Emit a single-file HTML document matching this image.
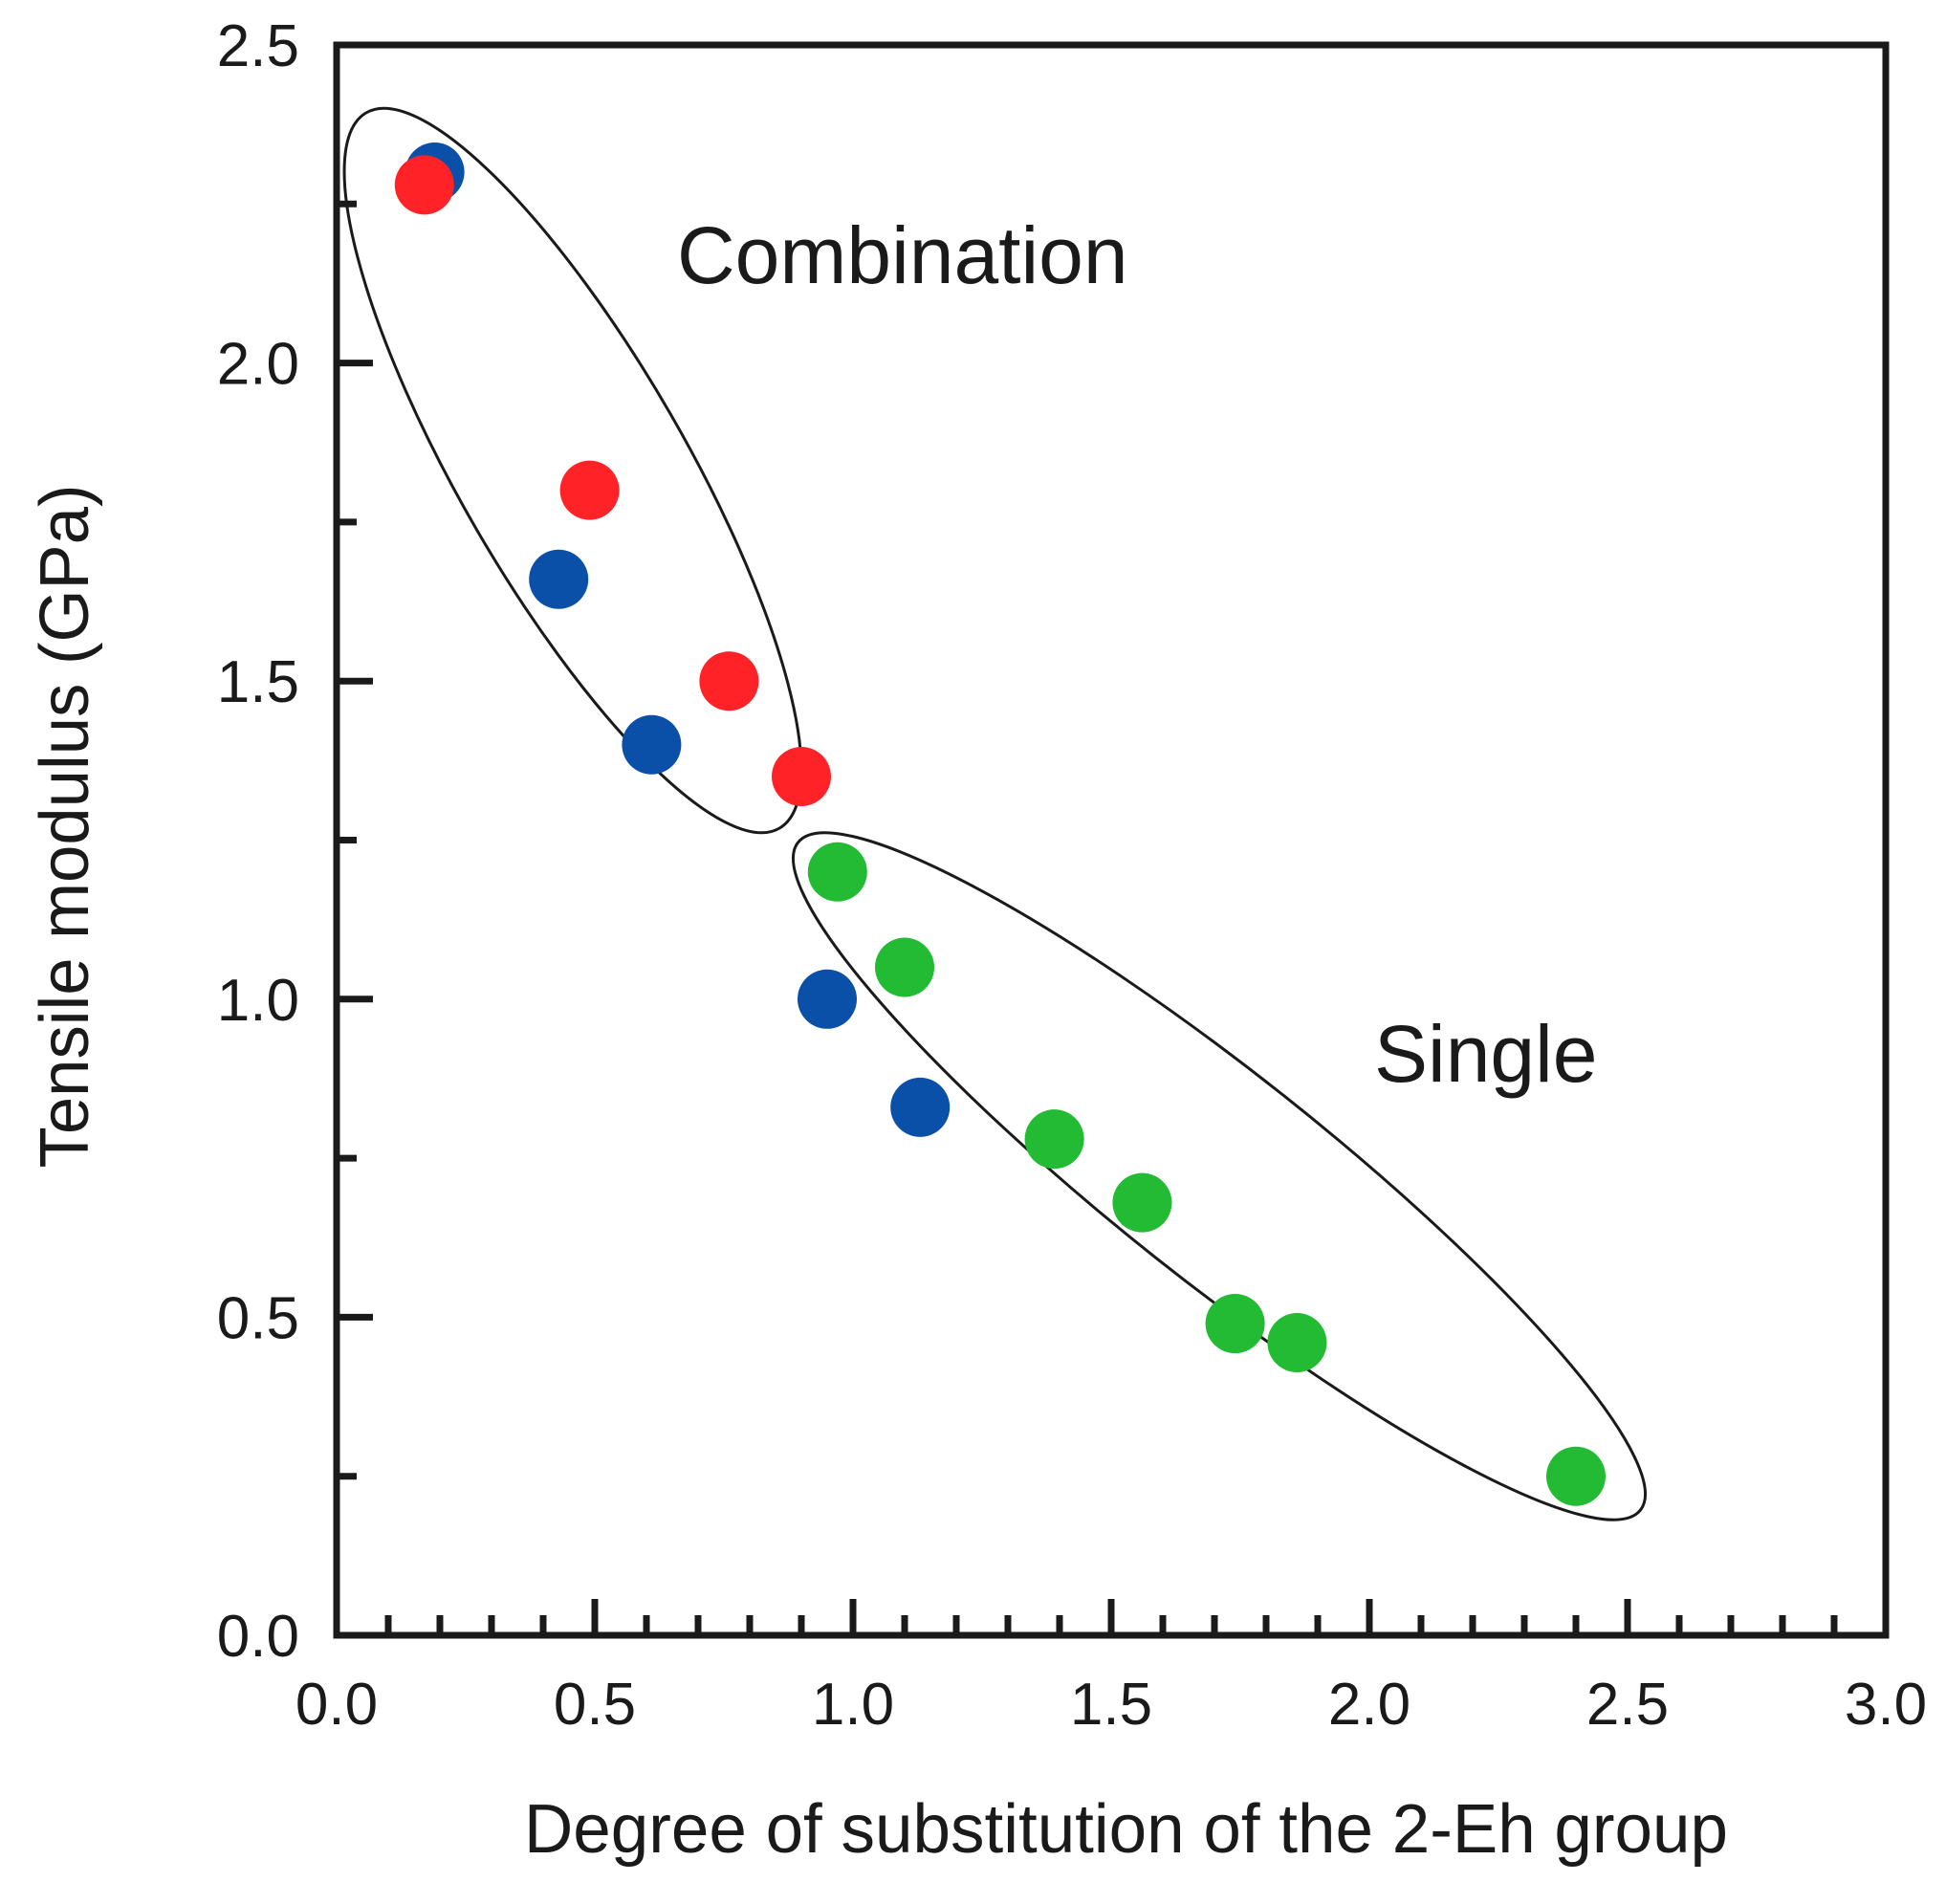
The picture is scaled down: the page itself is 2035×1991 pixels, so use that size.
<!DOCTYPE html>
<html><head><meta charset="utf-8"><style>
html,body{margin:0;padding:0;background:#fff}
svg text{font-family:"Liberation Sans",sans-serif;fill:#1a1a1a}
</style></head><body>
<svg width="2035" height="1986" viewBox="0 0 2035 1986" id="chart"></svg>
<script>
const blueX=[0.19,0.43,0.61,0.95,1.13];
const blueY=[2.30,1.66,1.40,1.00,0.83];
const redX=[0.17,0.49,0.76,0.90];
const redY=[2.28,1.80,1.50,1.35];
const greenX=[0.97,1.10,1.39,1.56,1.74,1.86,2.40];
const greenY=[1.20,1.05,0.78,0.68,0.49,0.46,0.25];
const xTicks=["0.0","0.5","1.0","1.5","2.0","2.5","3.0"];
const yTicks=["0.0","0.5","1.0","1.5","2.0","2.5"];
const X0=352,X1=1972,Y0=1710,Y1=47;
function sx(v){return X0+(X1-X0)*v/3;}
function sy(v){return Y0-(Y0-Y1)*v/2.5;}
const svg=document.getElementById('chart');
const NS='http://www.w3.org/2000/svg';
function mk(t,a,p){const e=document.createElementNS(NS,t);for(const k in a)e.setAttribute(k,a[k]);(p||svg).appendChild(e);return e;}
for(let i=1;i<30;i++){const major=i%5===0;const x=sx(i/10);
const t=mk('line',{x1:x,x2:x,y1:Y0,y2:Y0-(major?38:21),stroke:'#1a1a1a','stroke-width':7});

}
for(let i=1;i<10;i++){const major=i%2===0;const y=sy(i*0.25);
const t=mk('line',{x1:X0,x2:X0+(major?38:21),y1:y,y2:y,stroke:'#1a1a1a','stroke-width':7});

}
const fr=mk('rect',{x:X0,y:Y1,width:X1-X0,height:Y0-Y1,fill:'none',stroke:'#1a1a1a','stroke-width':7});


xTicks.forEach((s,i)=>{const t=mk('text',{x:sx(i*0.5),y:1803,'font-size':62,'text-anchor':'middle'});t.textContent=s;

});
yTicks.forEach((s,i)=>{const t=mk('text',{x:313,y:sy(i*0.5)+22,'font-size':62,'text-anchor':'end'});t.textContent=s;

});
const e1=mk('ellipse',{cx:599,cy:492,rx:432,ry:118,transform:'rotate(60 599 492)',fill:'none',stroke:'#1a1a1a','stroke-width':3});


const e2=mk('ellipse',{cx:1275,cy:1230,rx:562,ry:108,transform:'rotate(38.4 1275 1230)',fill:'none',stroke:'#1a1a1a','stroke-width':3});


function pts(xs,ys,col,name){xs.forEach((v,i)=>{const c=mk('circle',{cx:sx(v),cy:sy(ys[i]),r:31,fill:col});

});}
pts(blueX,blueY,'#0a4fa8','blue-point');
pts(redX,redY,'#ff2328','red-point');
pts(greenX,greenY,'#22bb33','green-point');
</script>
<svg width="2035" height="1986" style="position:absolute;left:0;top:0">
<text x="708" y="296" font-size="84">Combination</text>
<text x="1437" y="1131" font-size="84">Single</text>
<text x="548" y="1937" font-size="72" textLength="1259" lengthAdjust="spacingAndGlyphs">Degree of substitution of the 2-Eh group</text>
<text x="0" y="0" font-size="72" text-anchor="middle" textLength="715" lengthAdjust="spacingAndGlyphs" transform="translate(92 864) rotate(-90)">Tensile modulus (GPa)</text>
</svg>
</body></html>
